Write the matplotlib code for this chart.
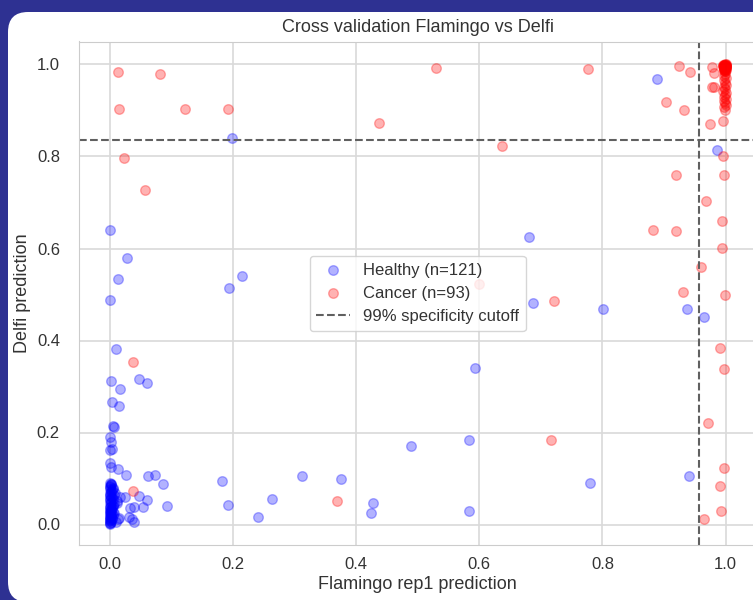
import matplotlib
matplotlib.use('Agg')

import matplotlib.pyplot as plt
from matplotlib.patches import FancyBboxPatch
from matplotlib.transforms import IdentityTransform
import seaborn as sns

sns.set_style('whitegrid')
plt.rcParams['font.family'] = ['Liberation Sans', 'DejaVu Sans']

cutoff_x = 0.957
cutoff_y = 0.835

# healthy samples: scattered ones
healthy_x = [0.199, 0.001, 0.028, 0.888, 0.986,
             0.013, 0.001, 0.194, 0.215, 0.010, 0.002, 0.017, 0.048, 0.061, 0.004,
             0.015, 0.005, 0.008, 0.001, 0.002, 0.000, 0.004, 0.000, 0.002, 0.013,
             0.026, 0.063, 0.074, 0.086, 0.048, 0.061, 0.025, 0.055, 0.094, 0.039,
             0.033, 0.031, 0.036, 0.040, 0.013, 0.012, 0.017, 0.183, 0.193, 0.241,
             0.264, 0.313,
             0.680, 0.687, 0.593, 0.584, 0.490, 0.376, 0.428, 0.424, 0.584,
             0.801, 0.938, 0.964, 0.779, 0.940]
healthy_y = [0.841, 0.640, 0.579, 0.968, 0.814,
             0.533, 0.488, 0.514, 0.541, 0.382, 0.313, 0.295, 0.317, 0.308, 0.266,
             0.258, 0.214, 0.213, 0.191, 0.180, 0.162, 0.165, 0.133, 0.126, 0.121,
             0.108, 0.105, 0.108, 0.089, 0.063, 0.054, 0.060, 0.037, 0.040, 0.039,
             0.035, 0.017, 0.013, 0.006, 0.013, 0.046, 0.060, 0.094, 0.042, 0.016,
             0.056, 0.105,
             0.624, 0.482, 0.341, 0.184, 0.171, 0.099, 0.046, 0.025, 0.029,
             0.468, 0.468, 0.452, 0.091, 0.105]
# healthy samples piled up near (0, 0)
healthy_x += [0.000, 0.001, 0.002, 0.000, 0.003, 0.001, 0.004, 0.000, 0.002, 0.005,
              0.001, 0.003, 0.000, 0.006, 0.002, 0.001, 0.004, 0.000, 0.003, 0.007,
              0.001, 0.002, 0.000, 0.005, 0.003, 0.001, 0.008, 0.000, 0.002, 0.004,
              0.001, 0.006, 0.000, 0.003, 0.002, 0.010, 0.001, 0.004, 0.000, 0.002,
              0.007, 0.001, 0.003, 0.000, 0.005, 0.002, 0.012, 0.001, 0.004, 0.000,
              0.009, 0.002, 0.006, 0.001, 0.003, 0.000, 0.015, 0.002, 0.005, 0.001]
healthy_y += [0.002, 0.004, 0.006, 0.008, 0.010, 0.012, 0.014, 0.016, 0.018, 0.020,
              0.022, 0.024, 0.026, 0.028, 0.030, 0.032, 0.035, 0.038, 0.041, 0.044,
              0.047, 0.050, 0.053, 0.056, 0.059, 0.062, 0.065, 0.068, 0.071, 0.074,
              0.077, 0.080, 0.083, 0.086, 0.089, 0.005, 0.009, 0.013, 0.017, 0.021,
              0.025, 0.029, 0.033, 0.037, 0.042, 0.046, 0.051, 0.055, 0.060, 0.064,
              0.069, 0.073, 0.078, 0.082, 0.087, 0.003, 0.015, 0.027, 0.040, 0.091]

# cancer samples: scattered ones
cancer_x = [0.014, 0.082, 0.015, 0.123, 0.192, 0.024, 0.058, 0.038, 0.038,
            0.600, 0.722, 0.717, 0.370, 0.437, 0.530, 0.637, 0.777,
            0.924, 0.942, 0.903, 0.933, 0.974, 0.995, 0.977, 0.981, 0.978, 0.981,
            0.996, 0.998, 0.920, 0.968, 0.994, 0.882, 0.919, 0.994,
            0.960, 0.930, 0.999, 0.991, 0.997, 0.972, 0.997, 0.991, 0.993, 0.964]
cancer_y = [0.984, 0.980, 0.903, 0.903, 0.903, 0.797, 0.728, 0.353, 0.073,
            0.522, 0.486, 0.184, 0.052, 0.873, 0.992, 0.823, 0.990,
            0.997, 0.984, 0.918, 0.900, 0.871, 0.878, 0.995, 0.982, 0.950, 0.952,
            0.801, 0.759, 0.759, 0.704, 0.659, 0.640, 0.638, 0.602,
            0.559, 0.505, 0.500, 0.384, 0.339, 0.220, 0.122, 0.084, 0.029, 0.013]
# cancer samples piled up near (1, 1)
cancer_x += [0.999, 1.000, 0.998, 0.997, 1.000, 0.999, 0.996, 1.000, 0.998, 0.999,
             1.000, 0.997, 0.999, 1.000, 0.998, 0.996, 1.000, 0.999, 0.998, 1.000,
             0.997, 0.999, 1.000, 0.998, 0.999, 1.000, 0.995, 0.999, 1.000, 0.998,
             0.999, 0.998, 1.000, 0.997, 0.999, 1.000, 0.998, 0.999, 0.996, 1.000,
             0.999, 0.998, 1.000, 0.997, 0.999, 1.000, 0.998, 0.999]
cancer_y += [1.000, 0.999, 0.998, 0.997, 0.996, 0.995, 0.999, 0.994, 0.993, 0.992,
             0.998, 0.991, 0.990, 0.997, 0.989, 0.996, 0.988, 0.999, 0.987, 0.995,
             0.993, 0.986, 1.000, 0.998, 0.985, 0.994, 0.997, 0.992, 0.990, 0.996,
             0.980, 0.975, 0.970, 0.966, 0.960, 0.955, 0.950, 0.946, 0.942, 0.938,
             0.933, 0.929, 0.925, 0.920, 0.916, 0.912, 0.907, 0.902]

fig = plt.figure(figsize=(7.53, 6.0), dpi=100, facecolor='#2e3192')
# white card with rounded corners, behind the axes
card = FancyBboxPatch((8, -2), 820, 590, boxstyle='round,pad=0,rounding_size=20',
                      transform=IdentityTransform(), facecolor='white',
                      edgecolor='none', zorder=-10)
fig.patches.append(card)

ax = fig.add_axes([78.7 / 753, (600 - 545.2) / 600, 677.8 / 753, 503.7 / 600])
ax.set_facecolor('white')

ax.scatter(healthy_x, healthy_y, color='blue', alpha=0.3, s=48,
           label='Healthy (n=%d)' % len(healthy_x))
ax.scatter(cancer_x, cancer_y, color='red', alpha=0.3, s=48,
           label='Cancer (n=%d)' % len(cancer_x))
ax.axvline(cutoff_x, color='#606060', linestyle='--', linewidth=1.5,
           label='99% specificity cutoff')
ax.axhline(cutoff_y, color='#606060', linestyle='--', linewidth=1.5)

ax.set_xlim(-0.05, 1.05)
ax.set_ylim(-0.045, 1.05)
ax.set_xticks([0.0, 0.2, 0.4, 0.6, 0.8, 1.0])
ax.set_yticks([0.0, 0.2, 0.4, 0.6, 0.8, 1.0])
ax.tick_params(axis='both', labelsize=12, colors='#333333')
ax.tick_params(axis='y', pad=10)
ax.tick_params(axis='x', pad=5)
ax.grid(color='#d9d9d9', linewidth=1.2)
for sp in ax.spines.values():
    sp.set_color('#cccccc')

ax.set_title('Cross validation Flamingo vs Delfi', fontsize=13, color='#333333', pad=7)
ax.set_xlabel('Flamingo rep1 prediction', fontsize=13, color='#333333', labelpad=3)
ax.set_ylabel('Delfi prediction', fontsize=13, color='#333333')
leg = ax.legend(loc='center', fontsize=12, framealpha=0.8)
for t in leg.get_texts():
    t.set_color('#333333')

fig.savefig('out.png', dpi=100, facecolor=fig.get_facecolor())
